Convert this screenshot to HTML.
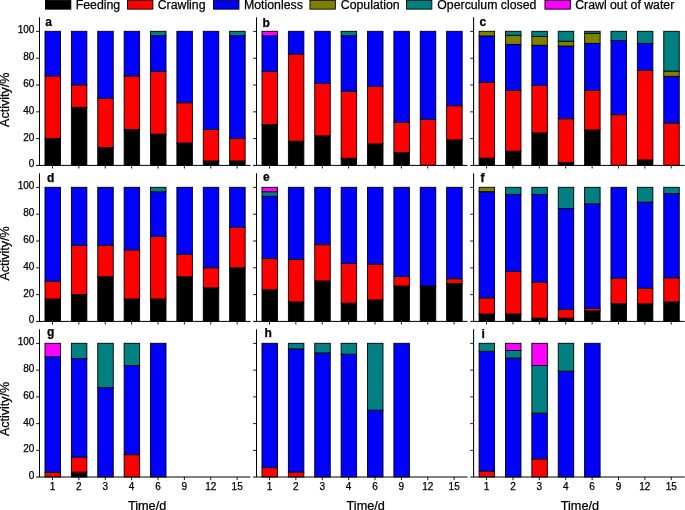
<!DOCTYPE html>
<html lang="en"><head><meta charset="utf-8"><title>Activity chart</title>
<style>
html,body{margin:0;padding:0;background:#fff;}
body{width:685px;height:510px;overflow:hidden;font-family:'Liberation Sans', Arial, sans-serif;}
svg{display:block;}
</style></head><body>
<svg width="685" height="510" viewBox="0 0 685 510" font-family="'Liberation Sans', Arial, sans-serif" fill="#000" stroke="none">
<rect x="45.45" y="0.3" width="25.4" height="8.85" fill="#000000" stroke="#000" stroke-width="0.9"/>
<text x="75.70" y="8.80" font-size="12.3" stroke="#000" stroke-width="0.25" transform="rotate(0.02 75.70 8.80)">Feeding</text>
<rect x="127.45" y="0.3" width="25.4" height="8.85" fill="#ff0000" stroke="#000" stroke-width="0.9"/>
<text x="157.70" y="8.80" font-size="12.3" stroke="#000" stroke-width="0.25" transform="rotate(0.02 157.70 8.80)">Crawling</text>
<rect x="213.55" y="0.3" width="25.4" height="8.85" fill="#0000ff" stroke="#000" stroke-width="0.9"/>
<text x="244.00" y="8.80" font-size="12.3" stroke="#000" stroke-width="0.25" transform="rotate(0.02 244.00 8.80)">Motionless</text>
<rect x="309.95" y="0.3" width="25.4" height="8.85" fill="#808000" stroke="#000" stroke-width="0.9"/>
<text x="340.80" y="8.80" font-size="12.3" stroke="#000" stroke-width="0.25" transform="rotate(0.02 340.80 8.80)">Copulation</text>
<rect x="406.45" y="0.3" width="25.4" height="8.85" fill="#008080" stroke="#000" stroke-width="0.9"/>
<text x="437.30" y="8.80" font-size="12.3" stroke="#000" stroke-width="0.25" transform="rotate(0.02 437.30 8.80)">Operculum closed</text>
<rect x="544.95" y="0.3" width="25.4" height="8.85" fill="#ff00ff" stroke="#000" stroke-width="0.9"/>
<text x="575.20" y="8.80" font-size="12.3" stroke="#000" stroke-width="0.25" transform="rotate(0.02 575.20 8.80)">Crawl out of water</text>
<rect x="44.99" y="138.54" width="15.5" height="26.81" fill="#000000" stroke="#000" stroke-width="0.9"/>
<rect x="44.99" y="75.94" width="15.5" height="62.60" fill="#ff0000" stroke="#000" stroke-width="0.9"/>
<rect x="44.99" y="31.30" width="15.5" height="44.64" fill="#0000ff" stroke="#000" stroke-width="0.9"/>
<rect x="71.37" y="107.31" width="15.5" height="58.04" fill="#000000" stroke="#000" stroke-width="0.9"/>
<rect x="71.37" y="84.92" width="15.5" height="22.39" fill="#ff0000" stroke="#000" stroke-width="0.9"/>
<rect x="71.37" y="31.30" width="15.5" height="53.62" fill="#0000ff" stroke="#000" stroke-width="0.9"/>
<rect x="97.75" y="147.52" width="15.5" height="17.83" fill="#000000" stroke="#000" stroke-width="0.9"/>
<rect x="97.75" y="98.33" width="15.5" height="49.20" fill="#ff0000" stroke="#000" stroke-width="0.9"/>
<rect x="97.75" y="31.30" width="15.5" height="67.02" fill="#0000ff" stroke="#000" stroke-width="0.9"/>
<rect x="124.13" y="129.56" width="15.5" height="35.79" fill="#000000" stroke="#000" stroke-width="0.9"/>
<rect x="124.13" y="75.94" width="15.5" height="53.62" fill="#ff0000" stroke="#000" stroke-width="0.9"/>
<rect x="124.13" y="31.30" width="15.5" height="44.64" fill="#0000ff" stroke="#000" stroke-width="0.9"/>
<rect x="150.51" y="134.12" width="15.5" height="31.23" fill="#000000" stroke="#000" stroke-width="0.9"/>
<rect x="150.51" y="71.52" width="15.5" height="62.60" fill="#ff0000" stroke="#000" stroke-width="0.9"/>
<rect x="150.51" y="35.72" width="15.5" height="35.79" fill="#0000ff" stroke="#000" stroke-width="0.9"/>
<rect x="150.51" y="31.30" width="15.5" height="4.42" fill="#008080" stroke="#000" stroke-width="0.9"/>
<rect x="176.89" y="142.96" width="15.5" height="22.39" fill="#000000" stroke="#000" stroke-width="0.9"/>
<rect x="176.89" y="102.75" width="15.5" height="40.22" fill="#ff0000" stroke="#000" stroke-width="0.9"/>
<rect x="176.89" y="31.30" width="15.5" height="71.45" fill="#0000ff" stroke="#000" stroke-width="0.9"/>
<rect x="203.27" y="160.93" width="15.5" height="4.42" fill="#000000" stroke="#000" stroke-width="0.9"/>
<rect x="203.27" y="129.56" width="15.5" height="31.37" fill="#ff0000" stroke="#000" stroke-width="0.9"/>
<rect x="203.27" y="31.30" width="15.5" height="98.26" fill="#0000ff" stroke="#000" stroke-width="0.9"/>
<rect x="229.65" y="160.93" width="15.5" height="4.42" fill="#000000" stroke="#000" stroke-width="0.9"/>
<rect x="229.65" y="138.54" width="15.5" height="22.39" fill="#ff0000" stroke="#000" stroke-width="0.9"/>
<rect x="229.65" y="35.72" width="15.5" height="102.82" fill="#0000ff" stroke="#000" stroke-width="0.9"/>
<rect x="229.65" y="31.30" width="15.5" height="4.42" fill="#008080" stroke="#000" stroke-width="0.9"/>
<path d="M39.50 17.30V165.40" stroke="#000" stroke-width="1.05" fill="none"/>
<path d="M36.10 165.40H250.54" stroke="#000" stroke-width="1" fill="none"/>
<path d="M36.10 138.64H39.50M36.10 111.83H39.50M36.10 85.02H39.50M36.10 58.21H39.50M36.10 31.40H39.50M52.49 165.40V168.50M78.87 165.40V168.50M105.25 165.40V168.50M131.63 165.40V168.50M158.01 165.40V168.50M184.39 165.40V168.50M210.77 165.40V168.50M237.15 165.40V168.50" stroke="#000" stroke-width="0.9" fill="none"/>
<text x="45.30" y="25.90" font-size="12" font-weight="bold" stroke="#000" stroke-width="0.25" transform="rotate(0.02 45.30 25.90)">a</text>
<text x="34.40" y="167.35" font-size="10" text-anchor="end" stroke="#000" stroke-width="0.25" transform="rotate(0.02 34.40 167.35)">0</text>
<text x="34.40" y="140.54" font-size="10" text-anchor="end" stroke="#000" stroke-width="0.25" transform="rotate(0.02 34.40 140.54)">20</text>
<text x="34.40" y="113.73" font-size="10" text-anchor="end" stroke="#000" stroke-width="0.25" transform="rotate(0.02 34.40 113.73)">40</text>
<text x="34.40" y="86.92" font-size="10" text-anchor="end" stroke="#000" stroke-width="0.25" transform="rotate(0.02 34.40 86.92)">60</text>
<text x="34.40" y="60.11" font-size="10" text-anchor="end" stroke="#000" stroke-width="0.25" transform="rotate(0.02 34.40 60.11)">80</text>
<text x="34.40" y="33.30" font-size="10" text-anchor="end" stroke="#000" stroke-width="0.25" transform="rotate(0.02 34.40 33.30)">100</text>
<text transform="translate(8.8 99.80) rotate(-90)" font-size="12.5" text-anchor="middle" stroke="#000" stroke-width="0.25">Activity/%</text>
<rect x="261.99" y="124.46" width="15.5" height="40.89" fill="#000000" stroke="#000" stroke-width="0.9"/>
<rect x="261.99" y="71.52" width="15.5" height="52.95" fill="#ff0000" stroke="#000" stroke-width="0.9"/>
<rect x="261.99" y="35.72" width="15.5" height="35.79" fill="#0000ff" stroke="#000" stroke-width="0.9"/>
<rect x="261.99" y="31.30" width="15.5" height="4.42" fill="#ff00ff" stroke="#000" stroke-width="0.9"/>
<rect x="288.37" y="141.22" width="15.5" height="24.13" fill="#000000" stroke="#000" stroke-width="0.9"/>
<rect x="288.37" y="54.09" width="15.5" height="87.13" fill="#ff0000" stroke="#000" stroke-width="0.9"/>
<rect x="288.37" y="31.30" width="15.5" height="22.79" fill="#0000ff" stroke="#000" stroke-width="0.9"/>
<rect x="314.75" y="135.86" width="15.5" height="29.49" fill="#000000" stroke="#000" stroke-width="0.9"/>
<rect x="314.75" y="83.58" width="15.5" height="52.28" fill="#ff0000" stroke="#000" stroke-width="0.9"/>
<rect x="314.75" y="31.30" width="15.5" height="52.28" fill="#0000ff" stroke="#000" stroke-width="0.9"/>
<rect x="341.13" y="158.25" width="15.5" height="7.10" fill="#000000" stroke="#000" stroke-width="0.9"/>
<rect x="341.13" y="91.22" width="15.5" height="67.02" fill="#ff0000" stroke="#000" stroke-width="0.9"/>
<rect x="341.13" y="35.72" width="15.5" height="55.50" fill="#0000ff" stroke="#000" stroke-width="0.9"/>
<rect x="341.13" y="31.30" width="15.5" height="4.42" fill="#008080" stroke="#000" stroke-width="0.9"/>
<rect x="367.51" y="143.90" width="15.5" height="21.45" fill="#000000" stroke="#000" stroke-width="0.9"/>
<rect x="367.51" y="86.26" width="15.5" height="57.64" fill="#ff0000" stroke="#000" stroke-width="0.9"/>
<rect x="367.51" y="31.30" width="15.5" height="54.96" fill="#0000ff" stroke="#000" stroke-width="0.9"/>
<rect x="393.89" y="152.75" width="15.5" height="12.60" fill="#000000" stroke="#000" stroke-width="0.9"/>
<rect x="393.89" y="122.19" width="15.5" height="30.56" fill="#ff0000" stroke="#000" stroke-width="0.9"/>
<rect x="393.89" y="31.30" width="15.5" height="90.89" fill="#0000ff" stroke="#000" stroke-width="0.9"/>
<rect x="420.27" y="119.50" width="15.5" height="45.85" fill="#ff0000" stroke="#000" stroke-width="0.9"/>
<rect x="420.27" y="31.30" width="15.5" height="88.20" fill="#0000ff" stroke="#000" stroke-width="0.9"/>
<rect x="446.65" y="139.88" width="15.5" height="25.47" fill="#000000" stroke="#000" stroke-width="0.9"/>
<rect x="446.65" y="105.70" width="15.5" height="34.18" fill="#ff0000" stroke="#000" stroke-width="0.9"/>
<rect x="446.65" y="31.30" width="15.5" height="74.40" fill="#0000ff" stroke="#000" stroke-width="0.9"/>
<path d="M256.50 17.30V165.40" stroke="#000" stroke-width="1.05" fill="none"/>
<path d="M253.10 165.40H467.54" stroke="#000" stroke-width="1" fill="none"/>
<path d="M253.10 138.64H256.50M253.10 111.83H256.50M253.10 85.02H256.50M253.10 58.21H256.50M253.10 31.40H256.50M269.49 165.40V168.50M295.87 165.40V168.50M322.25 165.40V168.50M348.63 165.40V168.50M375.01 165.40V168.50M401.39 165.40V168.50M427.77 165.40V168.50M454.15 165.40V168.50" stroke="#000" stroke-width="0.9" fill="none"/>
<text x="262.50" y="27.10" font-size="12" font-weight="bold" stroke="#000" stroke-width="0.25" transform="rotate(0.02 262.50 27.10)">b</text>
<rect x="479.09" y="158.11" width="15.5" height="7.24" fill="#000000" stroke="#000" stroke-width="0.9"/>
<rect x="479.09" y="82.37" width="15.5" height="75.74" fill="#ff0000" stroke="#000" stroke-width="0.9"/>
<rect x="479.09" y="35.99" width="15.5" height="46.38" fill="#0000ff" stroke="#000" stroke-width="0.9"/>
<rect x="479.09" y="31.30" width="15.5" height="4.69" fill="#808000" stroke="#000" stroke-width="0.9"/>
<rect x="505.47" y="151.14" width="15.5" height="14.21" fill="#000000" stroke="#000" stroke-width="0.9"/>
<rect x="505.47" y="90.28" width="15.5" height="60.86" fill="#ff0000" stroke="#000" stroke-width="0.9"/>
<rect x="505.47" y="44.57" width="15.5" height="45.71" fill="#0000ff" stroke="#000" stroke-width="0.9"/>
<rect x="505.47" y="35.32" width="15.5" height="9.25" fill="#808000" stroke="#000" stroke-width="0.9"/>
<rect x="505.47" y="31.30" width="15.5" height="4.02" fill="#008080" stroke="#000" stroke-width="0.9"/>
<rect x="531.85" y="132.91" width="15.5" height="32.44" fill="#000000" stroke="#000" stroke-width="0.9"/>
<rect x="531.85" y="85.46" width="15.5" height="47.45" fill="#ff0000" stroke="#000" stroke-width="0.9"/>
<rect x="531.85" y="45.24" width="15.5" height="40.21" fill="#0000ff" stroke="#000" stroke-width="0.9"/>
<rect x="531.85" y="36.39" width="15.5" height="8.85" fill="#808000" stroke="#000" stroke-width="0.9"/>
<rect x="531.85" y="31.30" width="15.5" height="5.09" fill="#008080" stroke="#000" stroke-width="0.9"/>
<rect x="558.23" y="162.40" width="15.5" height="2.95" fill="#000000" stroke="#000" stroke-width="0.9"/>
<rect x="558.23" y="118.70" width="15.5" height="43.70" fill="#ff0000" stroke="#000" stroke-width="0.9"/>
<rect x="558.23" y="46.05" width="15.5" height="72.66" fill="#0000ff" stroke="#000" stroke-width="0.9"/>
<rect x="558.23" y="41.22" width="15.5" height="4.83" fill="#808000" stroke="#000" stroke-width="0.9"/>
<rect x="558.23" y="31.30" width="15.5" height="9.92" fill="#008080" stroke="#000" stroke-width="0.9"/>
<rect x="584.61" y="129.96" width="15.5" height="35.39" fill="#000000" stroke="#000" stroke-width="0.9"/>
<rect x="584.61" y="90.28" width="15.5" height="39.68" fill="#ff0000" stroke="#000" stroke-width="0.9"/>
<rect x="584.61" y="43.36" width="15.5" height="46.92" fill="#0000ff" stroke="#000" stroke-width="0.9"/>
<rect x="584.61" y="33.31" width="15.5" height="10.05" fill="#808000" stroke="#000" stroke-width="0.9"/>
<rect x="584.61" y="31.30" width="15.5" height="2.01" fill="#008080" stroke="#000" stroke-width="0.9"/>
<rect x="610.99" y="114.68" width="15.5" height="50.67" fill="#ff0000" stroke="#000" stroke-width="0.9"/>
<rect x="610.99" y="40.55" width="15.5" height="74.13" fill="#0000ff" stroke="#000" stroke-width="0.9"/>
<rect x="610.99" y="31.30" width="15.5" height="9.25" fill="#008080" stroke="#000" stroke-width="0.9"/>
<rect x="637.37" y="159.99" width="15.5" height="5.36" fill="#000000" stroke="#000" stroke-width="0.9"/>
<rect x="637.37" y="70.31" width="15.5" height="89.68" fill="#ff0000" stroke="#000" stroke-width="0.9"/>
<rect x="637.37" y="43.36" width="15.5" height="26.94" fill="#0000ff" stroke="#000" stroke-width="0.9"/>
<rect x="637.37" y="31.30" width="15.5" height="12.06" fill="#008080" stroke="#000" stroke-width="0.9"/>
<rect x="663.75" y="122.99" width="15.5" height="42.36" fill="#ff0000" stroke="#000" stroke-width="0.9"/>
<rect x="663.75" y="76.34" width="15.5" height="46.65" fill="#0000ff" stroke="#000" stroke-width="0.9"/>
<rect x="663.75" y="71.11" width="15.5" height="5.23" fill="#808000" stroke="#000" stroke-width="0.9"/>
<rect x="663.75" y="31.30" width="15.5" height="39.81" fill="#008080" stroke="#000" stroke-width="0.9"/>
<path d="M473.60 17.30V165.40" stroke="#000" stroke-width="1.05" fill="none"/>
<path d="M470.20 165.40H684.64" stroke="#000" stroke-width="1" fill="none"/>
<path d="M470.20 138.64H473.60M470.20 111.83H473.60M470.20 85.02H473.60M470.20 58.21H473.60M470.20 31.40H473.60M486.59 165.40V168.50M512.97 165.40V168.50M539.35 165.40V168.50M565.73 165.40V168.50M592.11 165.40V168.50M618.49 165.40V168.50M644.87 165.40V168.50M671.25 165.40V168.50" stroke="#000" stroke-width="0.9" fill="none"/>
<text x="479.40" y="26.10" font-size="12" font-weight="bold" stroke="#000" stroke-width="0.25" transform="rotate(0.02 479.40 26.10)">c</text>
<rect x="44.99" y="298.96" width="15.5" height="22.39" fill="#000000" stroke="#000" stroke-width="0.9"/>
<rect x="44.99" y="281.13" width="15.5" height="17.83" fill="#ff0000" stroke="#000" stroke-width="0.9"/>
<rect x="44.99" y="187.30" width="15.5" height="93.83" fill="#0000ff" stroke="#000" stroke-width="0.9"/>
<rect x="71.37" y="294.54" width="15.5" height="26.81" fill="#000000" stroke="#000" stroke-width="0.9"/>
<rect x="71.37" y="245.34" width="15.5" height="49.20" fill="#ff0000" stroke="#000" stroke-width="0.9"/>
<rect x="71.37" y="187.30" width="15.5" height="58.04" fill="#0000ff" stroke="#000" stroke-width="0.9"/>
<rect x="97.75" y="276.71" width="15.5" height="44.64" fill="#000000" stroke="#000" stroke-width="0.9"/>
<rect x="97.75" y="245.34" width="15.5" height="31.37" fill="#ff0000" stroke="#000" stroke-width="0.9"/>
<rect x="97.75" y="187.30" width="15.5" height="58.04" fill="#0000ff" stroke="#000" stroke-width="0.9"/>
<rect x="124.13" y="298.96" width="15.5" height="22.39" fill="#000000" stroke="#000" stroke-width="0.9"/>
<rect x="124.13" y="249.90" width="15.5" height="49.06" fill="#ff0000" stroke="#000" stroke-width="0.9"/>
<rect x="124.13" y="187.30" width="15.5" height="62.60" fill="#0000ff" stroke="#000" stroke-width="0.9"/>
<rect x="150.51" y="298.96" width="15.5" height="22.39" fill="#000000" stroke="#000" stroke-width="0.9"/>
<rect x="150.51" y="236.50" width="15.5" height="62.47" fill="#ff0000" stroke="#000" stroke-width="0.9"/>
<rect x="150.51" y="191.72" width="15.5" height="44.77" fill="#0000ff" stroke="#000" stroke-width="0.9"/>
<rect x="150.51" y="187.30" width="15.5" height="4.42" fill="#008080" stroke="#000" stroke-width="0.9"/>
<rect x="176.89" y="276.71" width="15.5" height="44.64" fill="#000000" stroke="#000" stroke-width="0.9"/>
<rect x="176.89" y="254.33" width="15.5" height="22.39" fill="#ff0000" stroke="#000" stroke-width="0.9"/>
<rect x="176.89" y="187.30" width="15.5" height="67.03" fill="#0000ff" stroke="#000" stroke-width="0.9"/>
<rect x="203.27" y="287.84" width="15.5" height="33.51" fill="#000000" stroke="#000" stroke-width="0.9"/>
<rect x="203.27" y="267.73" width="15.5" height="20.11" fill="#ff0000" stroke="#000" stroke-width="0.9"/>
<rect x="203.27" y="187.30" width="15.5" height="80.43" fill="#0000ff" stroke="#000" stroke-width="0.9"/>
<rect x="229.65" y="267.73" width="15.5" height="53.62" fill="#000000" stroke="#000" stroke-width="0.9"/>
<rect x="229.65" y="227.52" width="15.5" height="40.22" fill="#ff0000" stroke="#000" stroke-width="0.9"/>
<rect x="229.65" y="187.30" width="15.5" height="40.22" fill="#0000ff" stroke="#000" stroke-width="0.9"/>
<path d="M39.50 173.30V321.40" stroke="#000" stroke-width="1.05" fill="none"/>
<path d="M36.10 321.40H250.54" stroke="#000" stroke-width="1" fill="none"/>
<path d="M36.10 294.64H39.50M36.10 267.83H39.50M36.10 241.02H39.50M36.10 214.21H39.50M36.10 187.40H39.50M52.49 321.40V324.50M78.87 321.40V324.50M105.25 321.40V324.50M131.63 321.40V324.50M158.01 321.40V324.50M184.39 321.40V324.50M210.77 321.40V324.50M237.15 321.40V324.50" stroke="#000" stroke-width="0.9" fill="none"/>
<text x="47.00" y="181.70" font-size="12" font-weight="bold" stroke="#000" stroke-width="0.25" transform="rotate(0.02 47.00 181.70)">d</text>
<text x="34.40" y="323.35" font-size="10" text-anchor="end" stroke="#000" stroke-width="0.25" transform="rotate(0.02 34.40 323.35)">0</text>
<text x="34.40" y="296.54" font-size="10" text-anchor="end" stroke="#000" stroke-width="0.25" transform="rotate(0.02 34.40 296.54)">20</text>
<text x="34.40" y="269.73" font-size="10" text-anchor="end" stroke="#000" stroke-width="0.25" transform="rotate(0.02 34.40 269.73)">40</text>
<text x="34.40" y="242.92" font-size="10" text-anchor="end" stroke="#000" stroke-width="0.25" transform="rotate(0.02 34.40 242.92)">60</text>
<text x="34.40" y="216.11" font-size="10" text-anchor="end" stroke="#000" stroke-width="0.25" transform="rotate(0.02 34.40 216.11)">80</text>
<text x="34.40" y="189.30" font-size="10" text-anchor="end" stroke="#000" stroke-width="0.25" transform="rotate(0.02 34.40 189.30)">100</text>
<text transform="translate(8.8 253.40) rotate(-90)" font-size="12.5" text-anchor="middle" stroke="#000" stroke-width="0.25">Activity/%</text>
<rect x="261.99" y="289.85" width="15.5" height="31.50" fill="#000000" stroke="#000" stroke-width="0.9"/>
<rect x="261.99" y="258.61" width="15.5" height="31.23" fill="#ff0000" stroke="#000" stroke-width="0.9"/>
<rect x="261.99" y="196.28" width="15.5" height="62.33" fill="#0000ff" stroke="#000" stroke-width="0.9"/>
<rect x="261.99" y="191.72" width="15.5" height="4.56" fill="#008080" stroke="#000" stroke-width="0.9"/>
<rect x="261.99" y="187.30" width="15.5" height="4.42" fill="#ff00ff" stroke="#000" stroke-width="0.9"/>
<rect x="288.37" y="301.91" width="15.5" height="19.44" fill="#000000" stroke="#000" stroke-width="0.9"/>
<rect x="288.37" y="259.42" width="15.5" height="42.49" fill="#ff0000" stroke="#000" stroke-width="0.9"/>
<rect x="288.37" y="187.30" width="15.5" height="72.12" fill="#0000ff" stroke="#000" stroke-width="0.9"/>
<rect x="314.75" y="281.00" width="15.5" height="40.35" fill="#000000" stroke="#000" stroke-width="0.9"/>
<rect x="314.75" y="244.67" width="15.5" height="36.33" fill="#ff0000" stroke="#000" stroke-width="0.9"/>
<rect x="314.75" y="187.30" width="15.5" height="57.37" fill="#0000ff" stroke="#000" stroke-width="0.9"/>
<rect x="341.13" y="303.12" width="15.5" height="18.23" fill="#000000" stroke="#000" stroke-width="0.9"/>
<rect x="341.13" y="263.44" width="15.5" height="39.68" fill="#ff0000" stroke="#000" stroke-width="0.9"/>
<rect x="341.13" y="187.30" width="15.5" height="76.14" fill="#0000ff" stroke="#000" stroke-width="0.9"/>
<rect x="367.51" y="299.90" width="15.5" height="21.45" fill="#000000" stroke="#000" stroke-width="0.9"/>
<rect x="367.51" y="264.11" width="15.5" height="35.79" fill="#ff0000" stroke="#000" stroke-width="0.9"/>
<rect x="367.51" y="187.30" width="15.5" height="76.81" fill="#0000ff" stroke="#000" stroke-width="0.9"/>
<rect x="393.89" y="285.96" width="15.5" height="35.39" fill="#000000" stroke="#000" stroke-width="0.9"/>
<rect x="393.89" y="276.58" width="15.5" height="9.38" fill="#ff0000" stroke="#000" stroke-width="0.9"/>
<rect x="393.89" y="187.30" width="15.5" height="89.28" fill="#0000ff" stroke="#000" stroke-width="0.9"/>
<rect x="420.27" y="285.96" width="15.5" height="35.39" fill="#000000" stroke="#000" stroke-width="0.9"/>
<rect x="420.27" y="187.30" width="15.5" height="98.66" fill="#0000ff" stroke="#000" stroke-width="0.9"/>
<rect x="446.65" y="283.55" width="15.5" height="37.80" fill="#000000" stroke="#000" stroke-width="0.9"/>
<rect x="446.65" y="278.72" width="15.5" height="4.83" fill="#ff0000" stroke="#000" stroke-width="0.9"/>
<rect x="446.65" y="187.30" width="15.5" height="91.42" fill="#0000ff" stroke="#000" stroke-width="0.9"/>
<path d="M256.50 173.30V321.40" stroke="#000" stroke-width="1.05" fill="none"/>
<path d="M253.10 321.40H467.54" stroke="#000" stroke-width="1" fill="none"/>
<path d="M253.10 294.64H256.50M253.10 267.83H256.50M253.10 241.02H256.50M253.10 214.21H256.50M253.10 187.40H256.50M269.49 321.40V324.50M295.87 321.40V324.50M322.25 321.40V324.50M348.63 321.40V324.50M375.01 321.40V324.50M401.39 321.40V324.50M427.77 321.40V324.50M454.15 321.40V324.50" stroke="#000" stroke-width="0.9" fill="none"/>
<text x="263.00" y="180.70" font-size="12" font-weight="bold" stroke="#000" stroke-width="0.25" transform="rotate(0.02 263.00 180.70)">e</text>
<rect x="479.09" y="313.98" width="15.5" height="7.37" fill="#000000" stroke="#000" stroke-width="0.9"/>
<rect x="479.09" y="297.89" width="15.5" height="16.09" fill="#ff0000" stroke="#000" stroke-width="0.9"/>
<rect x="479.09" y="191.72" width="15.5" height="106.17" fill="#0000ff" stroke="#000" stroke-width="0.9"/>
<rect x="479.09" y="187.30" width="15.5" height="4.42" fill="#808000" stroke="#000" stroke-width="0.9"/>
<rect x="505.47" y="313.98" width="15.5" height="7.37" fill="#000000" stroke="#000" stroke-width="0.9"/>
<rect x="505.47" y="271.48" width="15.5" height="42.49" fill="#ff0000" stroke="#000" stroke-width="0.9"/>
<rect x="505.47" y="194.54" width="15.5" height="76.94" fill="#0000ff" stroke="#000" stroke-width="0.9"/>
<rect x="505.47" y="187.30" width="15.5" height="7.24" fill="#008080" stroke="#000" stroke-width="0.9"/>
<rect x="531.85" y="318.13" width="15.5" height="3.22" fill="#000000" stroke="#000" stroke-width="0.9"/>
<rect x="531.85" y="282.21" width="15.5" height="35.93" fill="#ff0000" stroke="#000" stroke-width="0.9"/>
<rect x="531.85" y="194.54" width="15.5" height="87.67" fill="#0000ff" stroke="#000" stroke-width="0.9"/>
<rect x="531.85" y="187.30" width="15.5" height="7.24" fill="#008080" stroke="#000" stroke-width="0.9"/>
<rect x="558.23" y="318.13" width="15.5" height="3.22" fill="#000000" stroke="#000" stroke-width="0.9"/>
<rect x="558.23" y="309.29" width="15.5" height="8.85" fill="#ff0000" stroke="#000" stroke-width="0.9"/>
<rect x="558.23" y="208.48" width="15.5" height="100.81" fill="#0000ff" stroke="#000" stroke-width="0.9"/>
<rect x="558.23" y="187.30" width="15.5" height="21.18" fill="#008080" stroke="#000" stroke-width="0.9"/>
<rect x="584.61" y="310.89" width="15.5" height="10.46" fill="#000000" stroke="#000" stroke-width="0.9"/>
<rect x="584.61" y="308.35" width="15.5" height="2.55" fill="#ff0000" stroke="#000" stroke-width="0.9"/>
<rect x="584.61" y="203.79" width="15.5" height="104.56" fill="#0000ff" stroke="#000" stroke-width="0.9"/>
<rect x="584.61" y="187.30" width="15.5" height="16.49" fill="#008080" stroke="#000" stroke-width="0.9"/>
<rect x="610.99" y="303.66" width="15.5" height="17.69" fill="#000000" stroke="#000" stroke-width="0.9"/>
<rect x="610.99" y="278.19" width="15.5" height="25.47" fill="#ff0000" stroke="#000" stroke-width="0.9"/>
<rect x="610.99" y="187.30" width="15.5" height="90.89" fill="#0000ff" stroke="#000" stroke-width="0.9"/>
<rect x="637.37" y="303.92" width="15.5" height="17.43" fill="#000000" stroke="#000" stroke-width="0.9"/>
<rect x="637.37" y="288.24" width="15.5" height="15.68" fill="#ff0000" stroke="#000" stroke-width="0.9"/>
<rect x="637.37" y="202.18" width="15.5" height="86.06" fill="#0000ff" stroke="#000" stroke-width="0.9"/>
<rect x="637.37" y="187.30" width="15.5" height="14.88" fill="#008080" stroke="#000" stroke-width="0.9"/>
<rect x="663.75" y="301.91" width="15.5" height="19.44" fill="#000000" stroke="#000" stroke-width="0.9"/>
<rect x="663.75" y="277.78" width="15.5" height="24.13" fill="#ff0000" stroke="#000" stroke-width="0.9"/>
<rect x="663.75" y="193.73" width="15.5" height="84.05" fill="#0000ff" stroke="#000" stroke-width="0.9"/>
<rect x="663.75" y="187.30" width="15.5" height="6.43" fill="#008080" stroke="#000" stroke-width="0.9"/>
<path d="M473.60 173.30V321.40" stroke="#000" stroke-width="1.05" fill="none"/>
<path d="M470.20 321.40H684.64" stroke="#000" stroke-width="1" fill="none"/>
<path d="M470.20 294.64H473.60M470.20 267.83H473.60M470.20 241.02H473.60M470.20 214.21H473.60M470.20 187.40H473.60M486.59 321.40V324.50M512.97 321.40V324.50M539.35 321.40V324.50M565.73 321.40V324.50M592.11 321.40V324.50M618.49 321.40V324.50M644.87 321.40V324.50M671.25 321.40V324.50" stroke="#000" stroke-width="0.9" fill="none"/>
<text x="480.60" y="181.80" font-size="12" font-weight="bold" stroke="#000" stroke-width="0.25" transform="rotate(0.02 480.60 181.80)">f</text>
<rect x="44.99" y="472.45" width="15.5" height="4.55" fill="#ff0000" stroke="#000" stroke-width="0.9"/>
<rect x="44.99" y="356.67" width="15.5" height="115.78" fill="#0000ff" stroke="#000" stroke-width="0.9"/>
<rect x="44.99" y="343.30" width="15.5" height="13.37" fill="#ff00ff" stroke="#000" stroke-width="0.9"/>
<rect x="71.37" y="472.19" width="15.5" height="4.81" fill="#000000" stroke="#000" stroke-width="0.9"/>
<rect x="71.37" y="457.21" width="15.5" height="14.97" fill="#ff0000" stroke="#000" stroke-width="0.9"/>
<rect x="71.37" y="358.68" width="15.5" height="98.54" fill="#0000ff" stroke="#000" stroke-width="0.9"/>
<rect x="71.37" y="343.30" width="15.5" height="15.38" fill="#008080" stroke="#000" stroke-width="0.9"/>
<rect x="97.75" y="387.69" width="15.5" height="89.31" fill="#0000ff" stroke="#000" stroke-width="0.9"/>
<rect x="97.75" y="343.30" width="15.5" height="44.39" fill="#008080" stroke="#000" stroke-width="0.9"/>
<rect x="124.13" y="454.67" width="15.5" height="22.33" fill="#ff0000" stroke="#000" stroke-width="0.9"/>
<rect x="124.13" y="365.49" width="15.5" height="89.18" fill="#0000ff" stroke="#000" stroke-width="0.9"/>
<rect x="124.13" y="343.30" width="15.5" height="22.19" fill="#008080" stroke="#000" stroke-width="0.9"/>
<rect x="150.51" y="343.30" width="15.5" height="133.70" fill="#0000ff" stroke="#000" stroke-width="0.9"/>
<path d="M39.50 329.30V477.00" stroke="#000" stroke-width="1.05" fill="none"/>
<path d="M36.10 477.00H250.54" stroke="#000" stroke-width="1" fill="none"/>
<path d="M36.10 450.36H39.50M36.10 423.62H39.50M36.10 396.88H39.50M36.10 370.14H39.50M36.10 343.40H39.50M52.49 477.00V480.10M78.87 477.00V480.10M105.25 477.00V480.10M131.63 477.00V480.10M158.01 477.00V480.10M184.39 477.00V480.10M210.77 477.00V480.10M237.15 477.00V480.10" stroke="#000" stroke-width="0.9" fill="none"/>
<text x="46.90" y="335.90" font-size="12" font-weight="bold" stroke="#000" stroke-width="0.25" transform="rotate(0.02 46.90 335.90)">g</text>
<text x="34.40" y="479.00" font-size="10" text-anchor="end" stroke="#000" stroke-width="0.25" transform="rotate(0.02 34.40 479.00)">0</text>
<text x="34.40" y="452.26" font-size="10" text-anchor="end" stroke="#000" stroke-width="0.25" transform="rotate(0.02 34.40 452.26)">20</text>
<text x="34.40" y="425.52" font-size="10" text-anchor="end" stroke="#000" stroke-width="0.25" transform="rotate(0.02 34.40 425.52)">40</text>
<text x="34.40" y="398.78" font-size="10" text-anchor="end" stroke="#000" stroke-width="0.25" transform="rotate(0.02 34.40 398.78)">60</text>
<text x="34.40" y="372.04" font-size="10" text-anchor="end" stroke="#000" stroke-width="0.25" transform="rotate(0.02 34.40 372.04)">80</text>
<text x="34.40" y="345.30" font-size="10" text-anchor="end" stroke="#000" stroke-width="0.25" transform="rotate(0.02 34.40 345.30)">100</text>
<text transform="translate(8.8 409.00) rotate(-90)" font-size="12.5" text-anchor="middle" stroke="#000" stroke-width="0.25">Activity/%</text>
<text x="52.49" y="490.10" font-size="10" text-anchor="middle" stroke="#000" stroke-width="0.25" transform="rotate(0.02 52.49 490.10)">1</text>
<text x="78.87" y="490.10" font-size="10" text-anchor="middle" stroke="#000" stroke-width="0.25" transform="rotate(0.02 78.87 490.10)">2</text>
<text x="105.25" y="490.10" font-size="10" text-anchor="middle" stroke="#000" stroke-width="0.25" transform="rotate(0.02 105.25 490.10)">3</text>
<text x="131.63" y="490.10" font-size="10" text-anchor="middle" stroke="#000" stroke-width="0.25" transform="rotate(0.02 131.63 490.10)">4</text>
<text x="158.01" y="490.10" font-size="10" text-anchor="middle" stroke="#000" stroke-width="0.25" transform="rotate(0.02 158.01 490.10)">6</text>
<text x="184.39" y="490.10" font-size="10" text-anchor="middle" stroke="#000" stroke-width="0.25" transform="rotate(0.02 184.39 490.10)">9</text>
<text x="210.77" y="490.10" font-size="10" text-anchor="middle" stroke="#000" stroke-width="0.25" transform="rotate(0.02 210.77 490.10)">12</text>
<text x="237.15" y="490.10" font-size="10" text-anchor="middle" stroke="#000" stroke-width="0.25" transform="rotate(0.02 237.15 490.10)">15</text>
<text x="147.10" y="509.70" font-size="12.7" text-anchor="middle" stroke="#000" stroke-width="0.25" transform="rotate(0.02 147.10 509.70)">Time/d</text>
<rect x="261.99" y="467.64" width="15.5" height="9.36" fill="#ff0000" stroke="#000" stroke-width="0.9"/>
<rect x="261.99" y="343.30" width="15.5" height="124.34" fill="#0000ff" stroke="#000" stroke-width="0.9"/>
<rect x="288.37" y="472.05" width="15.5" height="4.95" fill="#ff0000" stroke="#000" stroke-width="0.9"/>
<rect x="288.37" y="348.92" width="15.5" height="123.14" fill="#0000ff" stroke="#000" stroke-width="0.9"/>
<rect x="288.37" y="343.30" width="15.5" height="5.62" fill="#008080" stroke="#000" stroke-width="0.9"/>
<rect x="314.75" y="352.93" width="15.5" height="124.07" fill="#0000ff" stroke="#000" stroke-width="0.9"/>
<rect x="314.75" y="343.30" width="15.5" height="9.63" fill="#008080" stroke="#000" stroke-width="0.9"/>
<rect x="341.13" y="354.26" width="15.5" height="122.74" fill="#0000ff" stroke="#000" stroke-width="0.9"/>
<rect x="341.13" y="343.30" width="15.5" height="10.96" fill="#008080" stroke="#000" stroke-width="0.9"/>
<rect x="367.51" y="410.15" width="15.5" height="66.85" fill="#0000ff" stroke="#000" stroke-width="0.9"/>
<rect x="367.51" y="343.30" width="15.5" height="66.85" fill="#008080" stroke="#000" stroke-width="0.9"/>
<rect x="393.89" y="343.30" width="15.5" height="133.70" fill="#0000ff" stroke="#000" stroke-width="0.9"/>
<path d="M256.50 329.30V477.00" stroke="#000" stroke-width="1.05" fill="none"/>
<path d="M253.10 477.00H467.54" stroke="#000" stroke-width="1" fill="none"/>
<path d="M253.10 450.36H256.50M253.10 423.62H256.50M253.10 396.88H256.50M253.10 370.14H256.50M253.10 343.40H256.50M269.49 477.00V480.10M295.87 477.00V480.10M322.25 477.00V480.10M348.63 477.00V480.10M375.01 477.00V480.10M401.39 477.00V480.10M427.77 477.00V480.10M454.15 477.00V480.10" stroke="#000" stroke-width="0.9" fill="none"/>
<text x="264.60" y="336.90" font-size="12" font-weight="bold" stroke="#000" stroke-width="0.25" transform="rotate(0.02 264.60 336.90)">h</text>
<text x="269.49" y="490.10" font-size="10" text-anchor="middle" stroke="#000" stroke-width="0.25" transform="rotate(0.02 269.49 490.10)">1</text>
<text x="295.87" y="490.10" font-size="10" text-anchor="middle" stroke="#000" stroke-width="0.25" transform="rotate(0.02 295.87 490.10)">2</text>
<text x="322.25" y="490.10" font-size="10" text-anchor="middle" stroke="#000" stroke-width="0.25" transform="rotate(0.02 322.25 490.10)">3</text>
<text x="348.63" y="490.10" font-size="10" text-anchor="middle" stroke="#000" stroke-width="0.25" transform="rotate(0.02 348.63 490.10)">4</text>
<text x="375.01" y="490.10" font-size="10" text-anchor="middle" stroke="#000" stroke-width="0.25" transform="rotate(0.02 375.01 490.10)">6</text>
<text x="401.39" y="490.10" font-size="10" text-anchor="middle" stroke="#000" stroke-width="0.25" transform="rotate(0.02 401.39 490.10)">9</text>
<text x="427.77" y="490.10" font-size="10" text-anchor="middle" stroke="#000" stroke-width="0.25" transform="rotate(0.02 427.77 490.10)">12</text>
<text x="454.15" y="490.10" font-size="10" text-anchor="middle" stroke="#000" stroke-width="0.25" transform="rotate(0.02 454.15 490.10)">15</text>
<text x="365.70" y="509.70" font-size="12.7" text-anchor="middle" stroke="#000" stroke-width="0.25" transform="rotate(0.02 365.70 509.70)">Time/d</text>
<rect x="479.09" y="471.25" width="15.5" height="5.75" fill="#ff0000" stroke="#000" stroke-width="0.9"/>
<rect x="479.09" y="351.32" width="15.5" height="119.93" fill="#0000ff" stroke="#000" stroke-width="0.9"/>
<rect x="479.09" y="343.30" width="15.5" height="8.02" fill="#008080" stroke="#000" stroke-width="0.9"/>
<rect x="505.47" y="358.01" width="15.5" height="118.99" fill="#0000ff" stroke="#000" stroke-width="0.9"/>
<rect x="505.47" y="350.52" width="15.5" height="7.49" fill="#008080" stroke="#000" stroke-width="0.9"/>
<rect x="505.47" y="343.30" width="15.5" height="7.22" fill="#ff00ff" stroke="#000" stroke-width="0.9"/>
<rect x="531.85" y="458.95" width="15.5" height="18.05" fill="#ff0000" stroke="#000" stroke-width="0.9"/>
<rect x="531.85" y="413.09" width="15.5" height="45.86" fill="#0000ff" stroke="#000" stroke-width="0.9"/>
<rect x="531.85" y="365.49" width="15.5" height="47.60" fill="#008080" stroke="#000" stroke-width="0.9"/>
<rect x="531.85" y="343.30" width="15.5" height="22.19" fill="#ff00ff" stroke="#000" stroke-width="0.9"/>
<rect x="558.23" y="371.11" width="15.5" height="105.89" fill="#0000ff" stroke="#000" stroke-width="0.9"/>
<rect x="558.23" y="343.30" width="15.5" height="27.81" fill="#008080" stroke="#000" stroke-width="0.9"/>
<rect x="584.61" y="343.30" width="15.5" height="133.70" fill="#0000ff" stroke="#000" stroke-width="0.9"/>
<path d="M473.60 329.30V477.00" stroke="#000" stroke-width="1.05" fill="none"/>
<path d="M470.20 477.00H684.64" stroke="#000" stroke-width="1" fill="none"/>
<path d="M470.20 450.36H473.60M470.20 423.62H473.60M470.20 396.88H473.60M470.20 370.14H473.60M470.20 343.40H473.60M486.59 477.00V480.10M512.97 477.00V480.10M539.35 477.00V480.10M565.73 477.00V480.10M592.11 477.00V480.10M618.49 477.00V480.10M644.87 477.00V480.10M671.25 477.00V480.10" stroke="#000" stroke-width="0.9" fill="none"/>
<text x="481.40" y="338.00" font-size="12" font-weight="bold" stroke="#000" stroke-width="0.25" transform="rotate(0.02 481.40 338.00)">i</text>
<text x="486.59" y="490.10" font-size="10" text-anchor="middle" stroke="#000" stroke-width="0.25" transform="rotate(0.02 486.59 490.10)">1</text>
<text x="512.97" y="490.10" font-size="10" text-anchor="middle" stroke="#000" stroke-width="0.25" transform="rotate(0.02 512.97 490.10)">2</text>
<text x="539.35" y="490.10" font-size="10" text-anchor="middle" stroke="#000" stroke-width="0.25" transform="rotate(0.02 539.35 490.10)">3</text>
<text x="565.73" y="490.10" font-size="10" text-anchor="middle" stroke="#000" stroke-width="0.25" transform="rotate(0.02 565.73 490.10)">4</text>
<text x="592.11" y="490.10" font-size="10" text-anchor="middle" stroke="#000" stroke-width="0.25" transform="rotate(0.02 592.11 490.10)">6</text>
<text x="618.49" y="490.10" font-size="10" text-anchor="middle" stroke="#000" stroke-width="0.25" transform="rotate(0.02 618.49 490.10)">9</text>
<text x="644.87" y="490.10" font-size="10" text-anchor="middle" stroke="#000" stroke-width="0.25" transform="rotate(0.02 644.87 490.10)">12</text>
<text x="671.25" y="490.10" font-size="10" text-anchor="middle" stroke="#000" stroke-width="0.25" transform="rotate(0.02 671.25 490.10)">15</text>
<text x="579.90" y="509.70" font-size="12.7" text-anchor="middle" stroke="#000" stroke-width="0.25" transform="rotate(0.02 579.90 509.70)">Time/d</text>
</svg>
</body></html>
